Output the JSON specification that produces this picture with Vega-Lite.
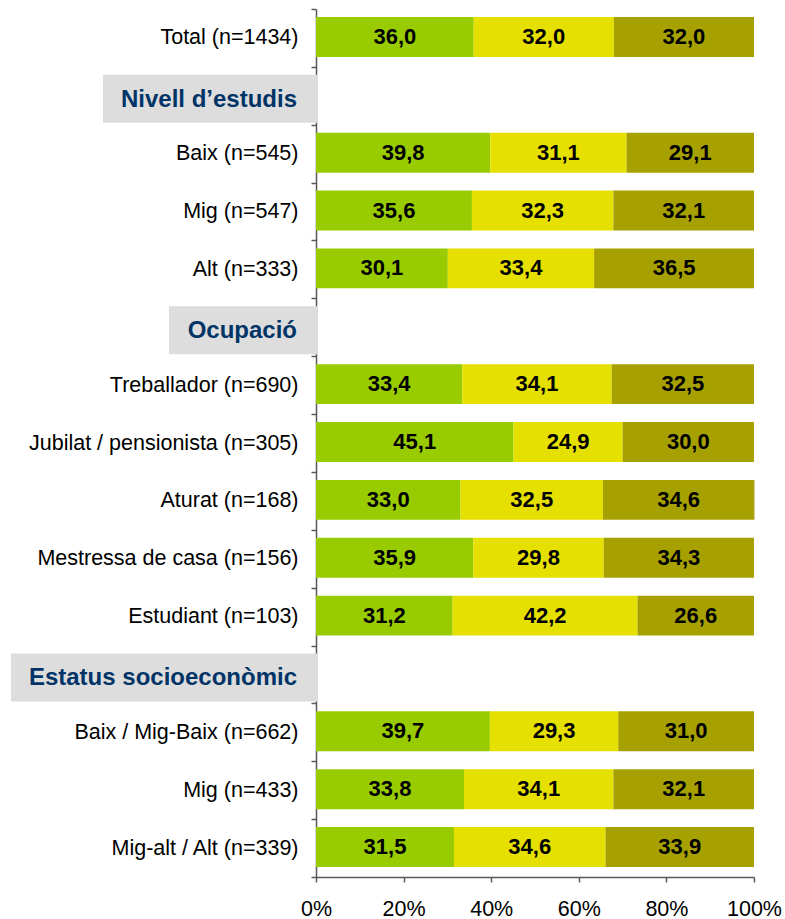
{
  "$schema": "https://vega.github.io/schema/vega-lite/v6.json",
  "autosize": {"type": "none"},
  "padding": {"left": 316, "top": 9, "right": 31, "bottom": 42},
  "width": 438,
  "height": 868,
  "config": {
    "view": {"stroke": null},
    "font": "Liberation Sans",
    "locale": {"number": {"decimal": ",", "thousands": ".", "grouping": [3], "currency": ["", " €"]}},
    "axisX": {
      "labelFontSize": 21.5,
      "labelColor": "#000000",
      "labelPadding": 16,
      "labelFlush": false,
      "tickSize": 5,
      "tickColor": "#595959",
      "tickWidth": 1.5,
      "domainColor": "#595959",
      "domainWidth": 1.5,
      "grid": false
    }
  },
  "datasets": {
    "barres": [
      {"label": "Total (n=1434)", "serie": "1", "valor": 36.0},
      {"label": "Total (n=1434)", "serie": "2", "valor": 32.0},
      {"label": "Total (n=1434)", "serie": "3", "valor": 32.0},
      {"label": "Baix (n=545)", "serie": "1", "valor": 39.8},
      {"label": "Baix (n=545)", "serie": "2", "valor": 31.1},
      {"label": "Baix (n=545)", "serie": "3", "valor": 29.1},
      {"label": "Mig (n=547)", "serie": "1", "valor": 35.6},
      {"label": "Mig (n=547)", "serie": "2", "valor": 32.3},
      {"label": "Mig (n=547)", "serie": "3", "valor": 32.1},
      {"label": "Alt (n=333)", "serie": "1", "valor": 30.1},
      {"label": "Alt (n=333)", "serie": "2", "valor": 33.4},
      {"label": "Alt (n=333)", "serie": "3", "valor": 36.5},
      {"label": "Treballador (n=690)", "serie": "1", "valor": 33.4},
      {"label": "Treballador (n=690)", "serie": "2", "valor": 34.1},
      {"label": "Treballador (n=690)", "serie": "3", "valor": 32.5},
      {"label": "Jubilat / pensionista (n=305)", "serie": "1", "valor": 45.1},
      {"label": "Jubilat / pensionista (n=305)", "serie": "2", "valor": 24.9},
      {"label": "Jubilat / pensionista (n=305)", "serie": "3", "valor": 30.0},
      {"label": "Aturat (n=168)", "serie": "1", "valor": 33.0},
      {"label": "Aturat (n=168)", "serie": "2", "valor": 32.5},
      {"label": "Aturat (n=168)", "serie": "3", "valor": 34.6},
      {"label": "Mestressa de casa (n=156)", "serie": "1", "valor": 35.9},
      {"label": "Mestressa de casa (n=156)", "serie": "2", "valor": 29.8},
      {"label": "Mestressa de casa (n=156)", "serie": "3", "valor": 34.3},
      {"label": "Estudiant (n=103)", "serie": "1", "valor": 31.2},
      {"label": "Estudiant (n=103)", "serie": "2", "valor": 42.2},
      {"label": "Estudiant (n=103)", "serie": "3", "valor": 26.6},
      {"label": "Baix / Mig-Baix (n=662)", "serie": "1", "valor": 39.7},
      {"label": "Baix / Mig-Baix (n=662)", "serie": "2", "valor": 29.3},
      {"label": "Baix / Mig-Baix (n=662)", "serie": "3", "valor": 31.0},
      {"label": "Mig (n=433)", "serie": "1", "valor": 33.8},
      {"label": "Mig (n=433)", "serie": "2", "valor": 34.1},
      {"label": "Mig (n=433)", "serie": "3", "valor": 32.1},
      {"label": "Mig-alt / Alt (n=339)", "serie": "1", "valor": 31.5},
      {"label": "Mig-alt / Alt (n=339)", "serie": "2", "valor": 34.6},
      {"label": "Mig-alt / Alt (n=339)", "serie": "3", "valor": 33.9}
    ],
    "capcaleres": [
      {"label": "Nivell d’estudis"},
      {"label": "Ocupació"},
      {"label": "Estatus socioeconòmic"}
    ]
  },
  "encoding": {
    "y": {
      "field": "label",
      "type": "nominal",
      "sort": null,
      "scale": {
        "domain": [
          "Total (n=1434)",
          "Nivell d’estudis",
          "Baix (n=545)",
          "Mig (n=547)",
          "Alt (n=333)",
          "Ocupació",
          "Treballador (n=690)",
          "Jubilat / pensionista (n=305)",
          "Aturat (n=168)",
          "Mestressa de casa (n=156)",
          "Estudiant (n=103)",
          "Estatus socioeconòmic",
          "Baix / Mig-Baix (n=662)",
          "Mig (n=433)",
          "Mig-alt / Alt (n=339)"
        ],
        "paddingInner": 0,
        "paddingOuter": 0
      },
      "axis": {
        "title": null,
        "labelExpr": "(datum.value == 'Nivell d’estudis' || datum.value == 'Ocupació' || datum.value == 'Estatus socioeconòmic') ? '' : datum.label",
        "labelFontSize": 21.5,
        "labelColor": "#000000",
        "labelLimit": 400,
        "labelPadding": 13,
        "tickSize": 5,
        "tickBand": "extent",
        "tickColor": "#595959",
        "tickWidth": 1.5,
        "domainColor": "#595959",
        "domainWidth": 1.5
      }
    }
  },
  "layer": [
    {
      "data": {"name": "capcaleres"},
      "transform": [
        {"calculate": "-(14.87 * length(datum.label) - 8.83 * length(replace(datum.label, regexp('[^ilt ’]', 'g'), '')) + 36.9) / 4.38", "as": "inici"}
      ],
      "mark": {"type": "bar", "color": "#DDDDDD", "height": {"band": 0.83}, "yOffset": 3},
      "encoding": {
        "x": {"field": "inici", "type": "quantitative", "scale": {"domain": [0, 100], "nice": false}, "axis": {"title": null, "values": [0, 20, 40, 60, 80, 100], "labelExpr": "datum.value + '%'"}},
        "x2": {"datum": 0.4}
      }
    },
    {
      "data": {"name": "barres"},
      "mark": {"type": "bar", "height": {"band": 0.69}, "yOffset": -1},
      "encoding": {
        "x": {"field": "valor", "type": "quantitative", "stack": "zero", "scale": {"domain": [0, 100], "nice": false}, "axis": {"title": null, "values": [0, 20, 40, 60, 80, 100], "labelExpr": "datum.value + '%'"}},
        "color": {
          "field": "serie",
          "type": "nominal",
          "scale": {"domain": ["1", "2", "3"], "range": ["#99CC00", "#E6E000", "#A6A000"]},
          "legend": null
        },
        "order": {"field": "serie", "type": "ordinal"}
      }
    },
    {
      "data": {"name": "barres"},
      "transform": [
        {"stack": "valor", "groupby": ["label"], "sort": [{"field": "serie", "order": "ascending"}], "as": ["v0", "v1"]},
        {"calculate": "(datum.v0 + datum.v1) / 2", "as": "mig"}
      ],
      "mark": {"type": "text", "fontSize": 22, "fontWeight": "bold", "color": "#000000", "align": "center", "baseline": "middle", "yOffset": -1},
      "encoding": {
        "x": {"field": "mig", "type": "quantitative", "scale": {"domain": [0, 100], "nice": false}, "axis": {"title": null, "values": [0, 20, 40, 60, 80, 100], "labelExpr": "datum.value + '%'"}},
        "text": {"field": "valor", "type": "quantitative", "format": ".1f"}
      }
    },
    {
      "data": {"name": "capcaleres"},
      "mark": {"type": "text", "fontSize": 24, "fontWeight": "bold", "color": "#003366", "align": "right", "baseline": "middle", "dx": -19, "yOffset": 4},
      "encoding": {
        "x": {"datum": 0, "type": "quantitative", "scale": {"domain": [0, 100], "nice": false}, "axis": {"title": null, "values": [0, 20, 40, 60, 80, 100], "labelExpr": "datum.value + '%'"}},
        "text": {"field": "label"}
      }
    }
  ]
}
